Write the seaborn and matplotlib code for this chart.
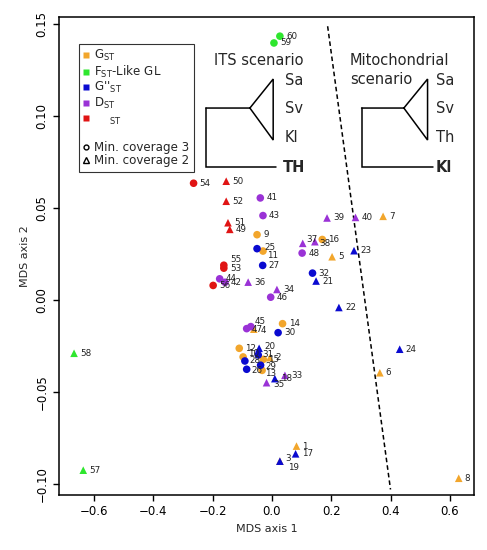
import matplotlib
matplotlib.use("Agg")
import matplotlib.pyplot as plt
import seaborn as sns
import pandas as pd
from matplotlib.lines import Line2D

# MDS coordinates, points 1..60
point_id = list(range(1, 61))
mds1 = [0.083, -0.007, 0.027, -0.061, 0.203, 0.364, 0.375, 0.630,      # GST, cov 2
        -0.050, -0.097, -0.030, -0.110, -0.033, 0.036, -0.029, 0.170,  # GST, cov 3
        0.080, 0.010, 0.027, -0.043, 0.149, 0.226, 0.277, 0.431,       # G''ST, cov 2
        -0.050, -0.085, -0.031, -0.091, -0.038, 0.021, -0.046, 0.137,  # G''ST, cov 3
        0.044, 0.017, -0.018, -0.080, 0.104, 0.145, 0.186, 0.282,      # DST, cov 2
        -0.039, -0.158, -0.030, -0.176, -0.071, -0.004, -0.085, 0.102, # DST, cov 3
        -0.142, -0.154, -0.148, -0.154,                                # ST, cov 2
        -0.162, -0.264, -0.162, -0.198,                                # ST, cov 3
        -0.636, -0.667, 0.007, 0.027]                                  # FST-like GL
mds2 = [-0.0794, -0.0313, -0.0876, -0.0158, 0.0236, -0.0395, 0.0456, -0.0969,
        0.0356, -0.0309, 0.0267, -0.0262, -0.0382, -0.0128, -0.0322, 0.0330,
        -0.0836, -0.0427, -0.0876, -0.0262, 0.0104, -0.0040, 0.0269, -0.0267,
        0.0280, -0.0376, 0.0189, -0.0331, -0.0354, -0.0177, -0.0298, 0.0147,
        -0.0409, 0.0058, -0.0449, 0.0098, 0.0309, 0.0318, 0.0447, 0.0450,
        0.0556, 0.0097, 0.0460, 0.0116, -0.0144, 0.0016, -0.0155, 0.0256,
        0.0385, 0.0647, 0.0421, 0.0538,
        0.0174, 0.0636, 0.0190, 0.0080,
        -0.0925, -0.0289, 0.1399, 0.1436]
statistic = (["GST"] * 16 + ["G2ST"] * 16 + ["DST"] * 16 + ["ST"] * 8 + ["FST"] * 4)
coverage = (["2"] * 8 + ["3"] * 8) * 3 + ["2"] * 4 + ["3"] * 4 + ["2"] * 2 + ["3"] * 2

colors = {"GST": "#f2a62c", "FST": "#2ee62e", "G2ST": "#0a0ad0",
          "DST": "#9a32d6", "ST": "#e01414"}
legend_labels = [("GST", r"G$_{ST}$"), ("FST", r"F$_{ST}$-Like GL"),
                 ("G2ST", r"G''$_{ST}$"), ("DST", r"D$_{ST}$"),
                 ("ST", r"$\ \ \ \ _{ST}$")]

# label offsets in pixels (dx, dy up) where the default does not fit
label_offsets = {3: (5, 3), 19: (8, -6), 55: (6, 6), 45: (4, 5), 47: (5, -1),
                 4: (7, -1), 10: (5, 3), 13: (3, -3), 11: (4, -4), 37: (4, 4),
                 38: (4, -2), 35: (7, -2), 20: (5, 2), 15: (5, 0), 25: (7, 1),
                 31: (4, 0), 29: (5, -1), 26: (5, -1), 28: (5, 0)}

df = pd.DataFrame({"id": point_id, "x": mds1, "y": mds2,
                   "stat": statistic, "cov": coverage})

sns.set_style("ticks")
plt.rcParams["font.family"] = ["DejaVu Sans"]
plt.rcParams["mathtext.default"] = "regular"

fig = plt.figure(figsize=(4.87, 5.5), dpi=100)
ax = fig.add_axes([0.121, 0.100, 0.852, 0.869])

sns.scatterplot(data=df, x="x", y="y", hue="stat", style="cov",
                palette=colors, markers={"3": "o", "2": "^"},
                s=30, linewidth=0, legend=False, ax=ax, zorder=3)

px2pt = 72 / 100
for _, r in df.iterrows():
    dx, dy = label_offsets.get(r["id"], (6, 0))
    ax.annotate(str(r["id"]), (r["x"], r["y"]), xytext=(dx * px2pt, dy * px2pt),
                textcoords="offset points", fontsize=6.3, color="#222222",
                ha="left", va="center", zorder=4)

# dashed separator between the two scenarios
ax.plot([0.188, 0.400], [0.149, -0.103], ls=(0, (3, 2)), color="black", lw=1.1)

ax.set_xlim(-0.718, 0.681)
ax.set_ylim(-0.106, 0.154)
ax.set_xticks([-0.6, -0.4, -0.2, 0.0, 0.2, 0.4, 0.6])
ax.set_yticks([-0.10, -0.05, 0.00, 0.05, 0.10, 0.15])
ax.set_yticklabels([f"{v:.2f}".replace("-", "\u2212") for v in ax.get_yticks()],
                   rotation=90, va="center")
ax.tick_params(labelsize=8.5, length=4, width=1, colors="black")
for sp in ax.spines.values():
    sp.set_linewidth(1.1)
    sp.set_color("black")
ax.set_xlabel("MDS axis 1", fontsize=8)
ax.set_ylabel("MDS axis 2", fontsize=8)

# tree sketches, positioned in pixel space of the axes box
def to_ax(px, py):
    return (px - 59) / 415, (495 - py) / 478

def line(pts):
    xs, ys = zip(*[to_ax(*p) for p in pts])
    ax.plot(xs, ys, color="black", lw=1.1, transform=ax.transAxes,
            clip_on=False, solid_joinstyle="miter")

def label(px, py, s, bold=False, size=10.5):
    ax.text(*to_ax(px, py), s, transform=ax.transAxes, fontsize=size,
            ha="left", va="center", fontweight="bold" if bold else "normal")

line([(206, 108), (250, 108), (273.3, 79), (273.3, 140), (250, 108)])
line([(206, 108), (206, 166.7), (276, 166.7)])
label(214, 60, "ITS scenario")
for py, s in [(80, "Sa"), (108, "Sv"), (137, "Kl")]:
    label(285, py, s)
label(283, 167, "TH", bold=True)

line([(361.7, 108), (404, 108), (427.7, 79), (427.7, 140), (404, 108)])
line([(361.7, 108), (361.7, 166.7), (433, 166.7)])
label(350, 60, "Mitochondrial")
label(350, 79, "scenario")
for py, s in [(80, "Sa"), (108, "Sv"), (137, "Th")]:
    label(436, py, s)
label(436, 167, "Kl", bold=True)

handles = [Line2D([], [], ls="", marker="s", ms=3.8, mfc=colors[k], mec="none",
                  label=lab) for k, lab in legend_labels]
handles.append(Line2D([], [], ls="", label=""))
handles.append(Line2D([], [], ls="", marker="o", ms=3.5, mfc="none", mec="black",
                      mew=1, label="Min. coverage 3"))
handles.append(Line2D([], [], ls="", marker="^", ms=3.8, mfc="none", mec="black",
                      mew=1, label="Min. coverage 2"))
leg = ax.legend(handles=handles, loc="upper left", bbox_to_anchor=(0.049, 0.944),
                fontsize=8.6, frameon=True, fancybox=False, edgecolor="black",
                handlelength=0.5, handletextpad=0.4, labelspacing=0.05,
                borderpad=0.35, borderaxespad=0)
leg.get_frame().set_linewidth(0.8)
leg.set_zorder(5)

fig.savefig("out.png", dpi=100)
